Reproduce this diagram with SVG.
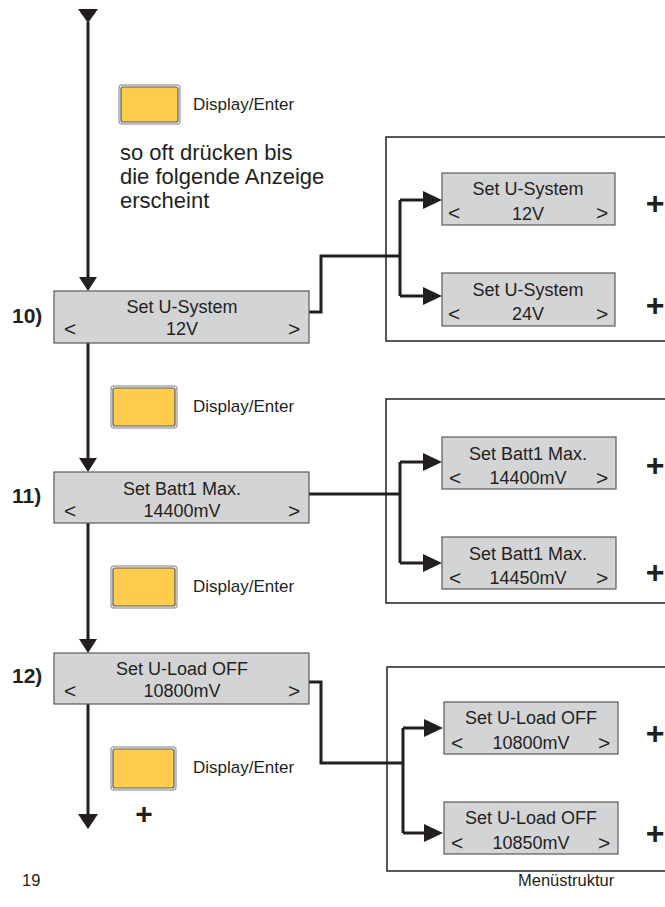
<svg xmlns="http://www.w3.org/2000/svg" width="665" height="907" viewBox="0 0 665 907">
<style>
text{font-family:"Liberation Sans",Arial,sans-serif;fill:#231f20}
.lcd{fill:#d3d4d6;stroke:#58595b;stroke-width:1.2}
.t{font-size:18px;text-anchor:middle}
.a{font-size:21px}
.btn{fill:#ffcc4e;stroke:#58595b;stroke-width:1.2}
.btno{fill:none;stroke:#a7a9ac;stroke-width:1.5}
.lbl{font-size:17px}
.num{font-size:21px;font-weight:bold}
.plus{font-size:32px;font-weight:bold;text-anchor:middle}
.frame{fill:none;stroke:#231f20;stroke-width:1.5}
.ln{fill:none;stroke:#231f20;stroke-width:3}
.ah{fill:#231f20}
</style>
<rect width="665" height="907" fill="#fff"/>

<g id="connectors">
  <path class="ln" d="M88 22 V278"/>
  <polygon class="ah" points="78,9 98,9 88,23"/>
  <polygon class="ah" points="79,277 97,277 88,291"/>
  <path class="ln" d="M88 343 V459"/>
  <polygon class="ah" points="79,458 97,458 88,472"/>
  <path class="ln" d="M88 523 V640"/>
  <polygon class="ah" points="79,639 97,639 88,653"/>
  <path class="ln" d="M88 704 V816"/>
  <polygon class="ah" points="78,814 98,814 88,829"/>

  <path class="ln" d="M309 312 H321 V256 H400 M400 200 V296 M400 200 H425 M400 296 H425"/>
  <polygon class="ah" points="423,191 442,200 423,209"/>
  <polygon class="ah" points="423,287 442,296 423,305"/>

  <path class="ln" d="M309 494 H400 M400 462 V563 M400 462 H425 M400 563 H425"/>
  <polygon class="ah" points="423,453 442,462 423,471"/>
  <polygon class="ah" points="423,554 442,563 423,572"/>

  <path class="ln" d="M309 682 H321 V763 H403 M403 728 V833 M403 728 H426 M403 833 H426"/>
  <polygon class="ah" points="424,719 443,728 424,737"/>
  <polygon class="ah" points="424,824 443,833 424,842"/>
</g>

<g id="frame1"><rect class="frame" x="386" y="137" width="290" height="204"/></g>
<g id="frame2"><rect class="frame" x="386" y="399" width="290" height="204"/></g>
<g id="frame3"><rect class="frame" x="387" y="667" width="290" height="204"/></g>

<g id="btn1">
  <rect class="btno" x="119" y="85" width="61" height="39" rx="3"/>
  <rect class="btn" x="121" y="87" width="57" height="35" rx="2"/>
  <text class="lbl" x="193" y="110">Display/Enter</text>
</g>
<g id="note">
  <text x="120" y="160" font-size="22">so oft drücken bis</text>
  <text x="120" y="184" font-size="22">die folgende Anzeige</text>
  <text x="120" y="208" font-size="22">erscheint</text>
</g>

<g id="n10">
  <text class="num" x="12" y="323">10)</text>
  <rect class="lcd" x="54" y="291" width="255" height="52"/>
  <text class="t" x="182" y="313">Set U-System</text>
  <text class="a" x="64" y="336">&lt;</text>
  <text class="t" x="182" y="335">12V</text>
  <text class="a" x="288" y="336">&gt;</text>
</g>
<g id="n10a">
  <rect class="lcd" x="442" y="173" width="173" height="52"/>
  <text class="t" x="528" y="195">Set U-System</text>
  <text class="a" x="448" y="220">&lt;</text>
  <text class="t" x="528" y="220">12V</text>
  <text class="a" x="596" y="220">&gt;</text>
  <text class="plus" x="655" y="214">+</text>
</g>
<g id="n10b">
  <rect class="lcd" x="442" y="273" width="173" height="53"/>
  <text class="t" x="528" y="296">Set U-System</text>
  <text class="a" x="448" y="321">&lt;</text>
  <text class="t" x="528" y="320">24V</text>
  <text class="a" x="596" y="321">&gt;</text>
  <text class="plus" x="655" y="316">+</text>
</g>

<g id="btn2">
  <rect class="btno" x="111" y="386" width="66" height="42" rx="3"/>
  <rect class="btn" x="113" y="388" width="62" height="38" rx="2"/>
  <text class="lbl" x="193" y="412">Display/Enter</text>
</g>

<g id="n11">
  <text class="num" x="12" y="503">11)</text>
  <rect class="lcd" x="54" y="472" width="255" height="51"/>
  <text class="t" x="182" y="495">Set Batt1 Max.</text>
  <text class="a" x="64" y="518">&lt;</text>
  <text class="t" x="182" y="517">14400mV</text>
  <text class="a" x="288" y="518">&gt;</text>
</g>
<g id="n11a">
  <rect class="lcd" x="442" y="437" width="174" height="52"/>
  <text class="t" x="528" y="460">Set Batt1 Max.</text>
  <text class="a" x="449" y="485">&lt;</text>
  <text class="t" x="528" y="484">14400mV</text>
  <text class="a" x="596" y="485">&gt;</text>
  <text class="plus" x="655" y="476">+</text>
</g>
<g id="n11b">
  <rect class="lcd" x="442" y="537" width="174" height="52"/>
  <text class="t" x="528" y="560">Set Batt1 Max.</text>
  <text class="a" x="449" y="585">&lt;</text>
  <text class="t" x="528" y="584">14450mV</text>
  <text class="a" x="596" y="585">&gt;</text>
  <text class="plus" x="655" y="583">+</text>
</g>

<g id="btn3">
  <rect class="btno" x="111" y="566" width="66" height="42" rx="3"/>
  <rect class="btn" x="113" y="568" width="62" height="38" rx="2"/>
  <text class="lbl" x="193" y="592">Display/Enter</text>
</g>

<g id="n12">
  <text class="num" x="12" y="683">12)</text>
  <rect class="lcd" x="54" y="653" width="255" height="51"/>
  <text class="t" x="182" y="675">Set U-Load OFF</text>
  <text class="a" x="64" y="698">&lt;</text>
  <text class="t" x="182" y="697">10800mV</text>
  <text class="a" x="288" y="698">&gt;</text>
</g>
<g id="n12a">
  <rect class="lcd" x="444" y="702" width="174" height="52"/>
  <text class="t" x="531" y="724">Set U-Load OFF</text>
  <text class="a" x="451" y="750">&lt;</text>
  <text class="t" x="531" y="749">10800mV</text>
  <text class="a" x="598" y="750">&gt;</text>
  <text class="plus" x="655" y="744">+</text>
</g>
<g id="n12b">
  <rect class="lcd" x="444" y="802" width="174" height="52"/>
  <text class="t" x="531" y="824">Set U-Load OFF</text>
  <text class="a" x="451" y="850">&lt;</text>
  <text class="t" x="531" y="849">10850mV</text>
  <text class="a" x="598" y="850">&gt;</text>
  <text class="plus" x="655" y="844">+</text>
</g>

<g id="btn4">
  <rect class="btno" x="111" y="747" width="65" height="43" rx="3"/>
  <rect class="btn" x="113" y="749" width="61" height="39" rx="2"/>
  <text class="lbl" x="193" y="773">Display/Enter</text>
  <text x="144" y="824" font-size="30" font-weight="bold" text-anchor="middle">+</text>
</g>

<g id="footer">
  <text x="22" y="886" font-size="16.5">19</text>
  <text x="518" y="886" font-size="16.5">Menüstruktur</text>
</g>
</svg>
